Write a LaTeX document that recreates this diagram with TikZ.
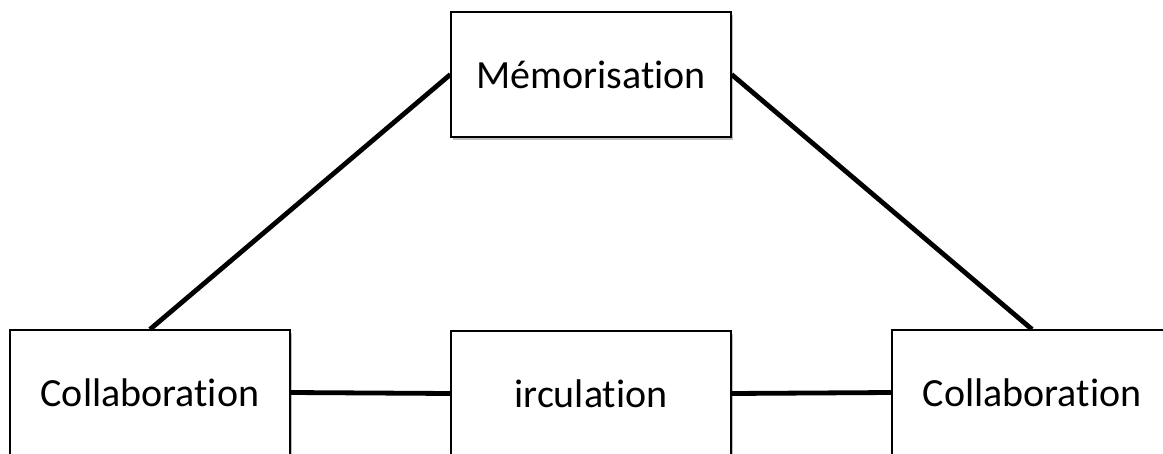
\documentclass[tikz,border=0pt]{standalone}
\usepackage{fontspec}
\setmainfont{Carlito}[Ligatures={NoCommon}]
\usetikzlibrary{shadows}

\begin{document}
\begin{tikzpicture}[x=1pt,y=-1pt,
        box/.style={draw,line width=1.3pt,fill=white,minimum width=280pt,minimum height=125pt,
            font=\fontsize{40}{48}\selectfont,
            drop shadow={shadow xshift=2pt,shadow yshift=-3pt,opacity=0.25,fill=black}},
        link/.style={line width=4.8pt}]
            \useasboundingbox (0,0) rectangle (1163,453);

            \node[box] (mem) at (591, 74.5) { Mémorisation };
            \node[box] (collabA) at (150, 392.5) { Collaboration };
            \node[box] (circ) at (591, 393.5) { irculation };
            \node[box] (collabB) at (1032, 392.5) { Collaboration };

            \draw[link] (mem.west) -- (collabA.north);
            \draw[link] (mem.east) -- (collabB.north);
            \draw[link] (collabA.east) -- (circ.west);
            \draw[link] (circ.east) -- (collabB.west);
        \end{tikzpicture}
\end{document}
